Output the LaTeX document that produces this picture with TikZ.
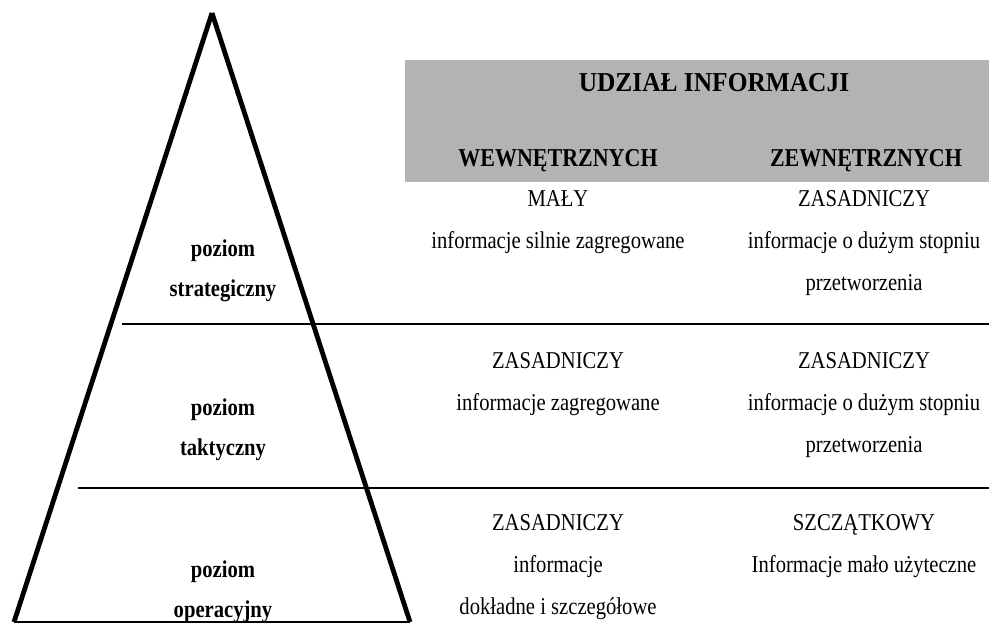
\documentclass[tikz,border=0pt]{standalone}
\usepackage{fontspec}
\setmainfont{Liberation Serif}
\newfontfamily\tnr{Liberation Serif}[FakeStretch=0.855]
\newfontfamily\tnrhead{Liberation Serif}[FakeStretch=0.93]
\definecolor{headgray}{RGB}{179,179,179}

\begin{document}
\begin{tikzpicture}[x=0.75pt,y=-0.75pt,
  cell/.style={align=center,anchor=north,inner sep=0pt,font=\tnr\fontsize{18.1}{31.5}\selectfont},
  level/.style={align=center,anchor=north,inner sep=0pt,font=\tnr\fontsize{18.1}{30}\selectfont\bfseries},
  colhead/.style={anchor=base,inner sep=0pt,font=\tnr\fontsize{19.3}{22}\selectfont\bfseries},
  side/.style={line width=3.6pt},
  rule/.style={line width=1.7pt}]
  \useasboundingbox (0,0) rectangle (989,625);

  % header band
  \fill[headgray] (405,60) rectangle (989,182);
  \node[anchor=base,inner sep=0pt,font=\tnrhead\fontsize{20.5}{24}\selectfont\bfseries] (title) at (714,91) {UDZIAŁ INFORMACJI};
  \node[colhead] (wew) at (558,166.5) {WEWNĘTRZNYCH};
  \node[colhead] (zew) at (866,166.5) {ZEWNĘTRZNYCH};

  % pyramid
  \coordinate (apex) at (212,13);
  \coordinate (bl) at (14,622);
  \coordinate (br) at (410,622);
  \draw[side] (apex) -- (bl);
  \draw[side] (apex) -- (br);
  \draw[rule] (bl) -- (br);

  % level separators
  \draw[rule] (122,324) -- (989,324);
  \draw[rule] (78,488) -- (989,488);

  % level names
  \node[level] (strat) at (223,239) {poziom\\strategiczny};
  \node[level] (takt)  at (223,398) {poziom\\taktyczny};
  \node[level] (oper)  at (223,560) {poziom\\operacyjny};

  % strategic row
  \node[cell] (s1) at (558,190) {MAŁY\\informacje silnie zagregowane};
  \node[cell] (s2) at (864,190) {ZASADNICZY\\informacje o dużym stopniu\\przetworzenia};
  % tactical row
  \node[cell] (t1) at (558,352) {ZASADNICZY\\informacje zagregowane};
  \node[cell] (t2) at (864,352) {ZASADNICZY\\informacje o dużym stopniu\\przetworzenia};
  % operational row
  \node[cell] (o1) at (558,514) {ZASADNICZY\\informacje\\dokładne i szczegółowe};
  \node[cell] (o2) at (864,514) {SZCZĄTKOWY\\Informacje mało użyteczne};
\end{tikzpicture}
\end{document}
